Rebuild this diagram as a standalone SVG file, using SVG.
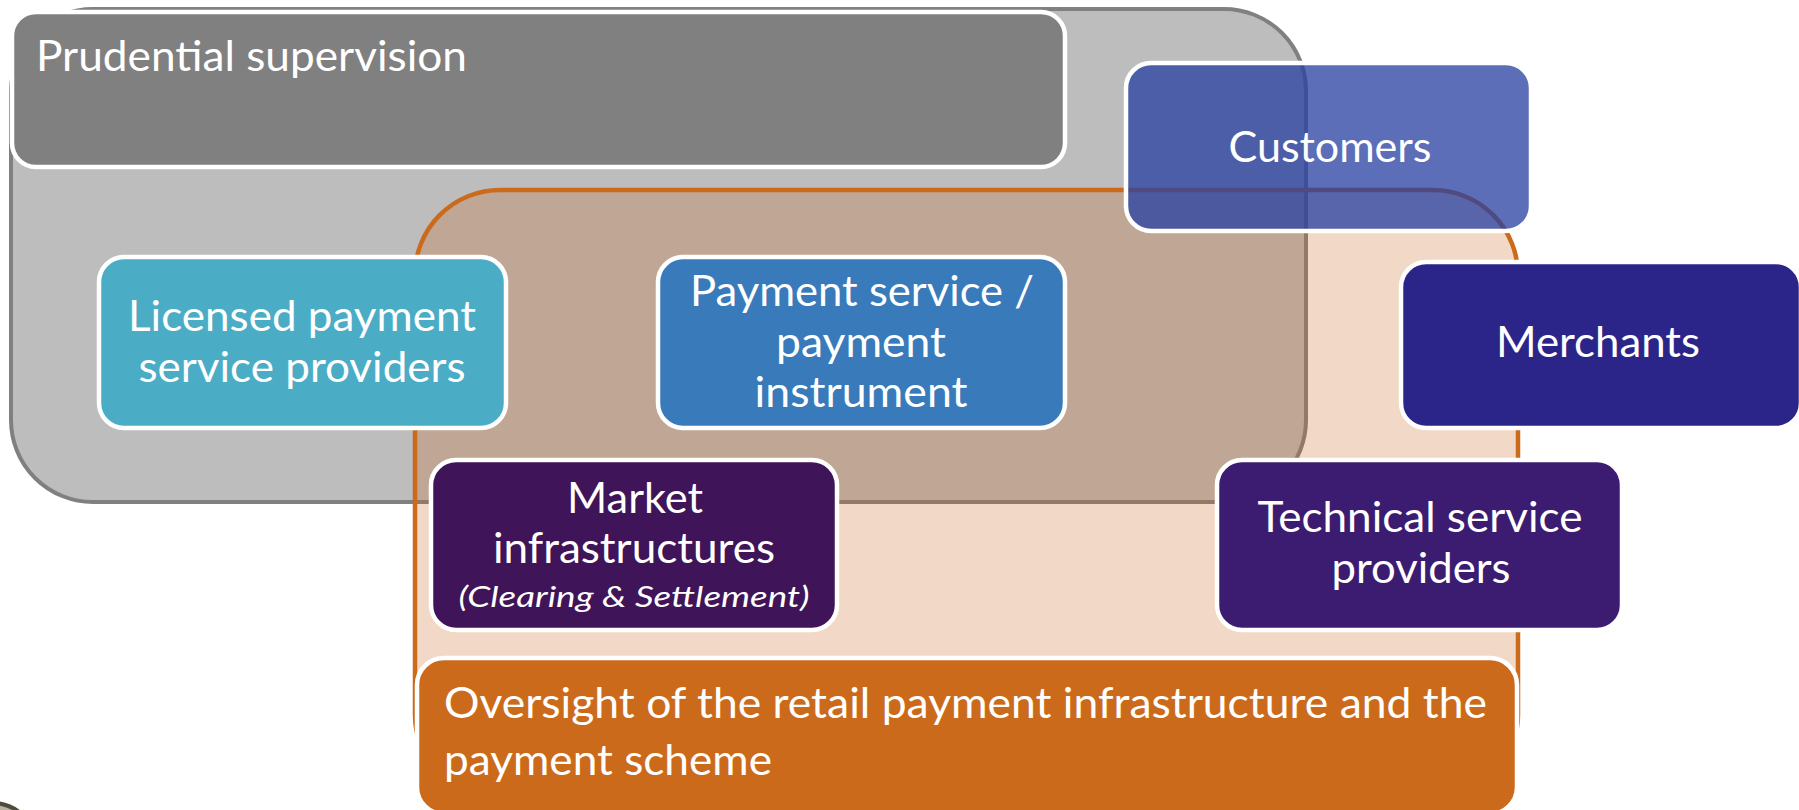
<svg xmlns="http://www.w3.org/2000/svg" width="1799" height="810" viewBox="0 0 1799 810">
  <style>
    .lbl { font-family: Lato, "Liberation Sans", sans-serif; font-size: 43px; fill: #ffffff; }
    .mid { text-anchor: middle; }
    .ital { font-style: italic; font-size: 29px; }
    .box { stroke: #ffffff; stroke-width: 4.5; }
  </style>

  <!-- background -->
  <rect x="0" y="0" width="1799" height="810" fill="#ffffff"/>

  <!-- small coin edge in the lower-left corner -->
  <circle cx="-8" cy="848" r="45" fill="#b9b2a3" stroke="#4e4a40" stroke-width="4"/>

  <!-- prudential supervision area -->
  <g id="prudential-area">
    <rect x="11" y="9" width="1295" height="493" rx="82" ry="82" fill="#bdbdbd" stroke="#808080" stroke-width="4"/>
  </g>

  <!-- oversight area (translucent orange) -->
  <g id="oversight-area">
    <rect x="415" y="190" width="1103" height="610" rx="85" ry="85" fill="#cb631f" fill-opacity="0.25" stroke="#cc6a1c" stroke-width="4.5"/>
  </g>

  <g id="prudential-title">
    <rect class="box" x="12" y="12" width="1053" height="155" rx="24" ry="24" fill="#808080"/>
    <text class="lbl" x="36" y="71" textLength="431" lengthAdjust="spacingAndGlyphs">Prudential supervision</text>
  </g>

  <g id="licensed-psp">
    <rect class="box" x="99" y="257" width="407" height="171" rx="25" ry="25" fill="#4bacc6"/>
    <text class="lbl mid" x="302" y="331" textLength="348" lengthAdjust="spacingAndGlyphs">Licensed payment</text>
    <text class="lbl mid" x="302" y="382" textLength="327" lengthAdjust="spacingAndGlyphs">service providers</text>
  </g>

  <g id="payment-service">
    <rect class="box" x="658" y="257" width="407" height="171" rx="25" ry="25" fill="#397aba"/>
    <text class="lbl mid" x="862" y="306" textLength="344" lengthAdjust="spacingAndGlyphs">Payment service /</text>
    <text class="lbl mid" x="861" y="357" textLength="170" lengthAdjust="spacingAndGlyphs">payment</text>
    <text class="lbl mid" x="861" y="407" textLength="213" lengthAdjust="spacingAndGlyphs">instrument</text>
  </g>

  <g id="market-infrastructures">
    <rect class="box" x="431" y="460" width="406" height="170" rx="25" ry="25" fill="#3f1458"/>
    <text class="lbl mid" x="635" y="513" textLength="136" lengthAdjust="spacingAndGlyphs">Market</text>
    <text class="lbl mid" x="634" y="563" textLength="282" lengthAdjust="spacingAndGlyphs">infrastructures</text>
    <text class="lbl mid ital" x="634" y="607" textLength="351" lengthAdjust="spacingAndGlyphs">(Clearing &amp; Settlement)</text>
  </g>

  <g id="technical-providers">
    <rect class="box" x="1217" y="460" width="405" height="170" rx="25" ry="25" fill="#3c1c70"/>
    <text class="lbl mid" x="1420" y="532" textLength="325" lengthAdjust="spacingAndGlyphs">Technical service</text>
    <text class="lbl mid" x="1421" y="583" textLength="179" lengthAdjust="spacingAndGlyphs">providers</text>
  </g>

  <g id="merchants">
    <rect class="box" x="1401" y="262" width="400" height="166" rx="25" ry="25" fill="#2c2589"/>
    <text class="lbl mid" x="1598" y="357" textLength="204" lengthAdjust="spacingAndGlyphs">Merchants</text>
  </g>

  <g id="oversight-title">
    <rect class="box" x="417" y="658" width="1100" height="156" rx="27" ry="27" fill="#cc6a1c"/>
    <text class="lbl" x="444" y="718" textLength="1043" lengthAdjust="spacingAndGlyphs">Oversight of the retail payment infrastructure and the</text>
    <text class="lbl" x="444" y="775" textLength="328" lengthAdjust="spacingAndGlyphs">payment scheme</text>
  </g>

  <g id="customers">
    <rect class="box" x="1126" y="63" width="405" height="168" rx="25" ry="25" fill="#2840a0" fill-opacity="0.76"/>
    <text class="lbl mid" x="1330" y="162" textLength="203" lengthAdjust="spacingAndGlyphs">Customers</text>
  </g>

  <g id="connectors"></g>
</svg>
